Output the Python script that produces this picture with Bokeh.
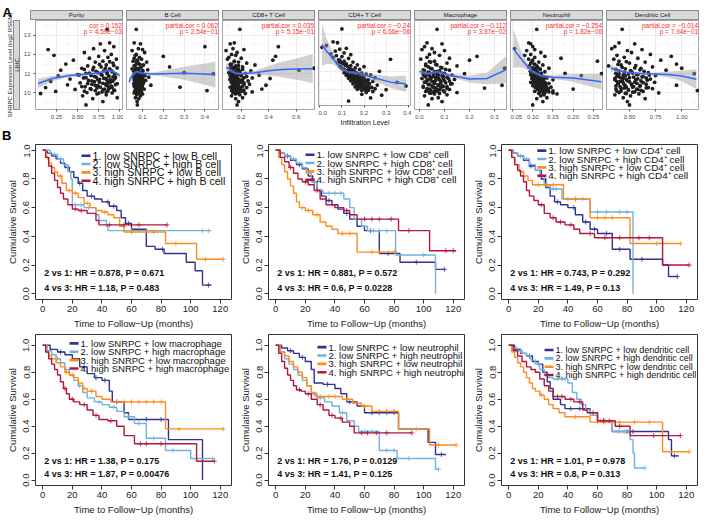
import math
import numpy as np
from bokeh.plotting import figure
from bokeh.models import (Range1d, FixedTicker, PrintfTickFormatter, Label, Div, Spacer)
from bokeh.core.properties import value
from bokeh.layouts import row, column
from bokeh.embed import file_html
from bokeh.resources import INLINE

FONT = "Liberation Sans"

# ======================= Panel A data (one row per tumour sample) =======================
expr = [13.30, 12.60, 12.55, 12.40, 12.30, 12.25, 12.20, 12.10, 12.00, 11.95,
        11.90, 11.85, 11.80, 11.75, 11.70, 11.65, 11.60, 11.55, 11.50, 11.45,
        11.40, 11.35, 11.30, 11.28, 11.25, 11.20, 11.18, 11.15, 11.10, 11.05,
        11.02, 11.00, 10.98, 10.95, 10.92, 10.90, 10.88, 10.85, 10.82, 10.80,
        10.78, 10.75, 10.72, 10.70, 10.68, 10.65, 10.62, 10.60, 10.58, 10.55,
        10.52, 10.50, 10.48, 10.45, 10.42, 10.40, 10.38, 10.35, 10.32, 10.30,
        10.28, 10.25, 10.22, 10.20, 10.18, 10.15, 10.12, 10.10, 10.08, 10.05,
        10.02, 10.00, 9.97, 9.95, 9.90, 9.85, 9.75, 9.70, 9.55, 9.38,
        11.62, 11.48, 11.42, 11.33, 11.27, 11.22, 11.16, 11.12, 11.08, 11.03,
        10.99, 10.96, 10.93, 10.89, 10.86, 10.83, 10.79, 10.76, 10.73, 10.69,
        10.66, 10.63, 10.59, 10.56, 10.53, 10.49, 10.46, 10.43, 10.39, 10.36,
        10.33, 10.29, 10.26, 10.23, 10.19, 10.16, 10.13, 10.09, 10.04, 9.99]
purity = [0.85, 0.88, 0.77, 0.93, 0.69, 0.15, 0.82, 0.58, 0.90, 0.22,
          0.75, 0.86, 0.64, 0.96, 0.45, 0.80, 0.71, 0.92, 0.36, 0.84,
          0.62, 0.78, 0.97, 0.55, 0.88, 0.68, 0.30, 0.81, 0.91, 0.74,
          0.60, 0.85, 0.94, 0.50, 0.79, 0.66, 0.27, 0.87, 0.72, 0.95,
          0.57, 0.83, 0.41, 0.76, 0.89, 0.63, 0.92, 0.18, 0.70, 0.86,
          0.53, 0.80, 0.97, 0.67, 0.38, 0.84, 0.74, 0.90, 0.59, 0.77,
          0.12, 0.88, 0.65, 0.82, 0.47, 0.93, 0.71, 0.86, 0.24, 0.79,
          0.61, 0.91, 0.06, 0.73, 0.84, 0.56, 0.97, 0.68, 0.80, 0.60,
          0.88, 0.76, 0.93, 0.69, 0.83, 0.58, 0.90, 0.72, 0.85, 0.64,
          0.95, 0.78, 0.52, 0.87, 0.70, 0.92, 0.60, 0.81, 0.94, 0.74,
          0.85, 0.67, 0.90, 0.76, 0.88, 0.62, 0.83, 0.95, 0.71, 0.86,
          0.55, 0.91, 0.73, 0.87, 0.66, 0.80, 0.94, 0.58, 0.84, 0.75]
b_cell = [0.070, 0.060, 0.090, 0.400, 0.080, 0.100, 0.050, 0.110, 0.070, 0.065,
          0.200, 0.085, 0.060, 0.095, 0.075, 0.055, 0.120, 0.080, 0.070, 0.105,
          0.060, 0.230, 0.090, 0.070, 0.050, 0.125, 0.080, 0.065, 0.100, 0.300,
          0.075, 0.440, 0.085, 0.060, 0.110, 0.070, 0.095, 0.055, 0.130, 0.080,
          0.065, 0.100, 0.070, 0.090, 0.060, 0.115, 0.075, 0.085, 0.095, 0.068,
          0.105, 0.078, 0.058, 0.092, 0.072, 0.140, 0.083, 0.062, 0.098, 0.280,
          0.076, 0.088, 0.066, 0.108, 0.074, 0.082, 0.410, 0.064, 0.094, 0.070,
          0.086, 0.060, 0.078, 0.100, 0.072, 0.090, 0.066, 0.082, 0.074, 0.075,
          0.072, 0.088, 0.062, 0.094, 0.078, 0.068, 0.102, 0.058, 0.084, 0.096,
          0.070, 0.088, 0.064, 0.112, 0.076, 0.090, 0.068, 0.098, 0.074, 0.086,
          0.062, 0.104, 0.080, 0.070, 0.092, 0.066, 0.084, 0.100, 0.072, 0.060,
          0.090, 0.078, 0.096, 0.068, 0.086, 0.074, 0.092, 0.064, 0.082, 0.076]
cd8_t = [0.19, 0.15, 0.12, 0.47, 0.14, 0.22, 0.09, 0.17, 0.13, 0.16,
         0.45, 0.11, 0.20, 0.10, 0.43, 0.15, 0.18, 0.24, 0.13, 0.30,
         0.16, 0.21, 0.12, 0.73, 0.18, 0.14, 0.62, 0.27, 0.19, 0.11,
         0.23, 0.16, 0.13, 0.20, 0.33, 0.15, 0.12, 0.24, 0.17, 0.14,
         0.28, 0.41, 0.18, 0.12, 0.21, 0.16, 0.25, 0.14, 0.19, 0.13,
         0.22, 0.17, 0.15, 0.26, 0.18, 0.38, 0.14, 0.21, 0.16, 0.12,
         0.24, 0.19, 0.14, 0.35, 0.17, 0.22, 0.13, 0.20, 0.15, 0.28,
         0.18, 0.14, 0.23, 0.16, 0.19, 0.13, 0.21, 0.16, 0.18, 0.17,
         0.15, 0.12, 0.18, 0.14, 0.16, 0.21, 0.13, 0.17, 0.15, 0.19,
         0.12, 0.18, 0.14, 0.20, 0.16, 0.13, 0.22, 0.15, 0.17, 0.12,
         0.19, 0.14, 0.16, 0.20, 0.13, 0.17, 0.15, 0.22, 0.14, 0.18,
         0.16, 0.20, 0.13, 0.17, 0.15, 0.19, 0.14, 0.21, 0.16, 0.18]
cd4_t = [0.100, 0.060, 0.080, 0.030, 0.010, 0.120, 0.090, 0.070, 0.110, 0.050,
         0.140, 0.075, 0.100, 0.060, 0.130, 0.320, 0.090, 0.110, 0.150, 0.080,
         0.120, 0.170, 0.140, 0.090, 0.200, 0.130, 0.160, 0.100, 0.180, 0.150,
         0.120, 0.270, 0.140, 0.160, 0.110, 0.190, 0.130, 0.210, 0.150, 0.230,
         0.120, 0.170, 0.140, 0.200, 0.160, 0.250, 0.130, 0.180, 0.150, 0.220,
         0.170, 0.190, 0.140, 0.240, 0.160, 0.350, 0.200, 0.180, 0.150, 0.220,
         0.170, 0.260, 0.190, 0.390, 0.210, 0.160, 0.230, 0.180, 0.200, 0.250,
         0.170, 0.300, 0.220, 0.190, 0.240, 0.210, 0.190, 0.280, 0.230, 0.130,
         0.085, 0.095, 0.105, 0.115, 0.125, 0.095, 0.135, 0.110, 0.145, 0.125,
         0.155, 0.135, 0.165, 0.120, 0.175, 0.145, 0.185, 0.130, 0.165, 0.155,
         0.195, 0.145, 0.175, 0.165, 0.205, 0.185, 0.155, 0.215, 0.175, 0.195,
         0.225, 0.165, 0.205, 0.185, 0.215, 0.175, 0.235, 0.195, 0.215, 0.205]
macrophage = [0.070, 0.030, 0.090, 0.020, 0.050, 0.010, 0.100, 0.060, 0.040, 0.080,
              0.230, 0.030, 0.120, 0.005, 0.200, 0.060, 0.045, 0.110, 0.025, 0.070,
              0.150, 0.035, 0.090, 0.340, 0.050, 0.015, 0.120, 0.080, 0.060, 0.040,
              0.100, 0.180, 0.030, 0.070, 0.130, 0.020, 0.090, 0.055, 0.110, 0.045,
              0.075, 0.010, 0.095, 0.140, 0.035, 0.065, 0.120, 0.050, 0.085, 0.025,
              0.105, 0.060, 0.130, 0.040, 0.075, 0.330, 0.090, 0.015, 0.110, 0.055,
              0.085, 0.260, 0.030, 0.070, 0.120, 0.045, 0.095, 0.060, 0.025, 0.100,
              0.150, 0.040, 0.080, 0.060, 0.110, 0.020, 0.075, 0.050, 0.090, 0.035,
              0.040, 0.065, 0.025, 0.085, 0.045, 0.105, 0.020, 0.070, 0.035, 0.090,
              0.055, 0.015, 0.075, 0.040, 0.095, 0.025, 0.065, 0.115, 0.045, 0.080,
              0.030, 0.100, 0.055, 0.020, 0.085, 0.060, 0.125, 0.035, 0.075, 0.050,
              0.095, 0.015, 0.065, 0.110, 0.040, 0.080, 0.030, 0.070, 0.055, 0.045]
neutrophil = [0.110, 0.090, 0.095, 0.100, 0.055, 0.105, 0.085, 0.120, 0.095, 0.080,
              0.130, 0.105, 0.170, 0.090, 0.100, 0.260, 0.115, 0.095, 0.105, 0.125,
              0.110, 0.090, 0.100, 0.140, 0.118, 0.100, 0.108, 0.098, 0.130, 0.112,
              0.180, 0.270, 0.105, 0.095, 0.122, 0.220, 0.100, 0.115, 0.128, 0.105,
              0.135, 0.098, 0.110, 0.120, 0.150, 0.108, 0.102, 0.118, 0.125, 0.095,
              0.112, 0.140, 0.105, 0.120, 0.132, 0.110, 0.100, 0.128, 0.115, 0.145,
              0.108, 0.122, 0.135, 0.200, 0.112, 0.125, 0.118, 0.150, 0.105, 0.140,
              0.130, 0.150, 0.115, 0.160, 0.128, 0.120, 0.135, 0.110, 0.125, 0.100,
              0.098, 0.104, 0.092, 0.112, 0.106, 0.118, 0.100, 0.094, 0.109, 0.121,
              0.103, 0.113, 0.097, 0.119, 0.107, 0.124, 0.111, 0.099, 0.116, 0.127,
              0.104, 0.114, 0.122, 0.108, 0.131, 0.102, 0.117, 0.126, 0.110, 0.121,
              0.134, 0.106, 0.129, 0.113, 0.138, 0.119, 0.124, 0.131, 0.117, 0.126]
dendritic = [0.43, 0.40, 0.55, 0.36, 0.33, 0.62, 0.48, 0.52, 0.70, 0.38,
             0.90, 0.45, 0.58, 0.35, 0.80, 0.40, 0.65, 0.50, 0.95, 0.42,
             0.30, 0.72, 0.55, 1.00, 0.46, 0.60, 0.85, 0.40, 0.52, 0.68,
             0.37, 1.12, 0.49, 0.58, 0.44, 0.75, 0.39, 0.63, 0.54, 0.41,
             0.66, 0.36, 0.70, 0.47, 0.56, 0.43, 0.61, 0.38, 0.50, 0.74,
             0.44, 0.57, 0.39, 0.66, 0.52, 0.95, 0.46, 0.60, 0.41, 0.53,
             0.68, 0.45, 0.72, 0.37, 0.58, 0.49, 1.15, 0.42, 0.63, 0.55,
             0.40, 0.78, 0.47, 0.59, 0.36, 0.51, 0.44, 0.65, 0.48, 0.50,
             0.47, 0.39, 0.56, 0.43, 0.61, 0.37, 0.51, 0.64, 0.45, 0.53,
             0.40, 0.57, 0.69, 0.46, 0.38, 0.62, 0.50, 0.44, 0.58, 0.36,
             0.67, 0.48, 0.41, 0.55, 0.63, 0.39, 0.52, 0.45, 0.60, 0.37,
             0.54, 0.47, 0.66, 0.42, 0.57, 0.49, 0.61, 0.38, 0.53, 0.46]

facet_names = ["Purity", "B Cell", "CD8+ T Cell", "CD4+ T Cell", "Macrophage", "Neutrophil", "Dendritic Cell"]
facet_cor = ["cor = 0.152", "partial.cor = 0.062", "partial.cor = 0.035", "partial.cor = \u22120.24",
             "partial.cor = \u22120.112", "partial.cor = \u22120.254", "partial.cor = \u22120.014"]
facet_p = ["p = 4.59e\u221203", "p = 2.54e\u221201", "p = 5.15e\u221201", "p = 6.66e\u221206",
           "p = 3.87e\u221202", "p = 1.82e\u221206", "p = 7.94e\u221201"]

expr_range = (9.14, 13.76)
expr_ticks = [10, 11, 12, 13]
expr_minor = [9.5, 10.5, 11.5, 12.5, 13.5]

purity_range = (0.0, 1.045); purity_ticks = [0.25, 0.5, 0.75, 1.0]; purity_minor = [0.125, 0.375, 0.625, 0.875]
bcell_range = (0.023, 0.47); bcell_ticks = [0.1, 0.2, 0.3, 0.4]; bcell_minor = [0.05, 0.15, 0.25, 0.35, 0.45]
cd8_range = (0.064, 0.74); cd8_ticks = [0.2, 0.4, 0.6]; cd8_minor = [0.1, 0.3, 0.5, 0.7]
cd4_range = (-0.006, 0.415); cd4_ticks = [0.0, 0.1, 0.2, 0.3, 0.4]; cd4_minor = [0.05, 0.15, 0.25, 0.35]
mac_range = (-0.02, 0.352); mac_ticks = [0.0, 0.1, 0.2, 0.3]; mac_minor = [0.05, 0.15, 0.25, 0.35]
neu_range = (0.045, 0.275); neu_ticks = [0.05, 0.10, 0.15, 0.20, 0.25]; neu_minor = [0.075, 0.125, 0.175, 0.225]
dc_range = (0.28, 1.17); dc_ticks = [0.5, 0.75, 1.0]; dc_minor = [0.375, 0.625, 0.875, 1.125]

# loess fits (x, fit, half width of the confidence band)
purity_fx = [0.03, 0.2, 0.4, 0.6, 0.75, 0.86, 0.93, 1.0]
purity_fy = [10.49, 10.75, 10.9, 10.97, 11.05, 11.18, 11.1, 10.9]
purity_fw = [0.25, 0.14, 0.08, 0.06, 0.05, 0.06, 0.07, 0.12]
bcell_fx = [0.035, 0.05, 0.07, 0.1, 0.15, 0.2, 0.3, 0.4, 0.45]
bcell_fy = [10.57, 10.9, 11.1, 11.02, 10.98, 11.0, 11.02, 10.98, 10.95]
bcell_fw = [0.2, 0.12, 0.07, 0.05, 0.08, 0.15, 0.34, 0.55, 0.68]
cd8_fx = [0.09, 0.12, 0.16, 0.2, 0.3, 0.4, 0.5, 0.6, 0.72]
cd8_fy = [11.34, 11.2, 11.02, 11.0, 11.05, 11.15, 11.22, 11.24, 11.26]
cd8_fw = [0.2, 0.1, 0.06, 0.06, 0.12, 0.25, 0.4, 0.55, 0.75]
cd4_fx = [0.01, 0.03, 0.06, 0.095, 0.13, 0.175, 0.24, 0.32, 0.39]
cd4_fy = [12.44, 12.1, 11.68, 11.17, 10.95, 10.9, 10.66, 10.41, 10.32]
cd4_fw = [1.15, 0.7, 0.3, 0.1, 0.07, 0.1, 0.18, 0.3, 0.45]
mac_fx = [0.0, 0.03, 0.07, 0.12, 0.2, 0.27, 0.345]
mac_fy = [11.12, 11.0, 11.1, 10.92, 10.72, 10.75, 11.2]
mac_fw = [0.12, 0.07, 0.07, 0.08, 0.18, 0.3, 0.7]
neu_fx = [0.052, 0.07, 0.085, 0.1, 0.12, 0.15, 0.2, 0.27]
neu_fy = [12.3, 11.8, 11.42, 11.1, 10.9, 10.82, 10.78, 10.58]
neu_fw = [1.0, 0.45, 0.2, 0.08, 0.07, 0.1, 0.2, 0.4]
dc_fx = [0.32, 0.4, 0.5, 0.63, 0.75, 0.89, 1.0, 1.14]
dc_fy = [11.29, 11.15, 11.05, 11.0, 10.98, 10.95, 10.88, 10.71]
dc_fw = [0.18, 0.09, 0.06, 0.06, 0.08, 0.16, 0.28, 0.5]

# ======================= Panel B data (Kaplan-Meier steps, censor times) =======================
bcell_t1 = [0, 3, 6, 9, 12, 15, 18, 21, 24, 27, 30, 35, 40, 45, 50, 53, 56, 60, 70, 76, 82, 97, 103, 108, 114]
bcell_s1 = [1, 0.98, 0.96, 0.94, 0.91, 0.88, 0.85, 0.81, 0.77, 0.72, 0.68, 0.66, 0.64, 0.61, 0.58, 0.53, 0.49, 0.45, 0.33, 0.31, 0.28, 0.22, 0.16, 0.06, 0.06]
bcell_c1 = [17, 25, 33, 44, 48, 58, 81, 112]
bcell_t2 = [0, 5, 10, 14, 17, 19, 20, 28, 36, 38, 43, 44, 114]
bcell_s2 = [1, 0.97, 0.94, 0.9, 0.85, 0.8, 0.62, 0.6, 0.55, 0.51, 0.47, 0.44, 0.44]
bcell_c2 = [8, 12, 22, 26, 31, 60, 108, 112]
bcell_t3 = [0, 2, 4, 6, 8, 10, 13, 16, 20, 24, 28, 32, 36, 40, 44, 48, 52, 55, 83, 104, 122]
bcell_s3 = [1, 0.95, 0.91, 0.88, 0.85, 0.82, 0.77, 0.72, 0.7, 0.67, 0.63, 0.6, 0.58, 0.57, 0.55, 0.53, 0.47, 0.43, 0.35, 0.24, 0.24]
bcell_c3 = [3, 12, 18, 22, 30, 42, 60, 75, 90, 110, 122]
bcell_t4 = [0, 2, 4, 6, 8, 10, 12, 14, 17, 20, 24, 30, 36, 38, 84]
bcell_s4 = [1, 0.95, 0.89, 0.84, 0.79, 0.74, 0.7, 0.66, 0.62, 0.59, 0.58, 0.56, 0.51, 0.48, 0.48]
bcell_c4 = [22, 26, 45, 55, 65, 84]

cd8_t1 = [0, 3, 6, 10, 14, 18, 22, 25, 28, 31, 34, 38, 42, 46, 50, 55, 60, 70, 84, 108, 114]
cd8_s1 = [1, 0.98, 0.96, 0.93, 0.9, 0.87, 0.82, 0.78, 0.72, 0.68, 0.65, 0.62, 0.59, 0.56, 0.52, 0.47, 0.44, 0.28, 0.22, 0.17, 0.17]
cd8_c1 = [8, 16, 26, 36, 48, 64, 76, 95, 114]
cd8_t2 = [0, 3, 6, 10, 14, 18, 21, 24, 28, 32, 46, 50, 53, 58, 62, 81, 108]
cd8_s2 = [1, 0.98, 0.96, 0.94, 0.91, 0.88, 0.84, 0.78, 0.72, 0.7, 0.66, 0.6, 0.52, 0.47, 0.44, 0.27, 0.0]
cd8_c2 = [12, 26, 30, 36, 40, 44, 66, 70, 75, 100]
cd8_t3 = [0, 2, 4, 6, 8, 10, 12, 14, 16, 20, 25, 30, 34, 38, 42, 55, 82]
cd8_s3 = [1, 0.95, 0.9, 0.85, 0.8, 0.75, 0.7, 0.64, 0.6, 0.58, 0.55, 0.5, 0.47, 0.45, 0.42, 0.29, 0.29]
cd8_c3 = [18, 22, 28, 45, 50, 65, 70, 80]
cd8_t4 = [0, 3, 6, 9, 12, 15, 18, 22, 26, 30, 34, 40, 46, 50, 55, 83, 104, 122]
cd8_s4 = [1, 0.95, 0.92, 0.88, 0.84, 0.8, 0.78, 0.76, 0.72, 0.66, 0.62, 0.6, 0.58, 0.55, 0.52, 0.44, 0.3, 0.3]
cd8_c4 = [10, 20, 28, 48, 60, 65, 70, 78, 90, 115, 120]

cd4_t1 = [0, 3, 6, 10, 14, 18, 22, 25, 28, 31, 35, 40, 45, 50, 55, 60, 70, 82, 104, 108, 114]
cd4_s1 = [1, 0.98, 0.96, 0.93, 0.89, 0.86, 0.8, 0.74, 0.68, 0.64, 0.62, 0.6, 0.55, 0.5, 0.45, 0.42, 0.31, 0.24, 0.2, 0.12, 0.12]
cd4_c1 = [15, 24, 33, 44, 52, 58, 66, 75, 90, 114]
cd4_t2 = [0, 3, 6, 10, 14, 18, 21, 24, 28, 36, 55, 84]
cd4_s2 = [1, 0.98, 0.96, 0.94, 0.9, 0.86, 0.82, 0.76, 0.73, 0.66, 0.57, 0.0]
cd4_c2 = [8, 12, 26, 30, 32, 40, 45, 50, 60, 66, 75, 80]
cd4_t3 = [0, 2, 4, 7, 10, 13, 16, 37, 55, 82, 116]
cd4_s3 = [1, 0.95, 0.9, 0.85, 0.82, 0.79, 0.76, 0.66, 0.53, 0.35, 0.35]
cd4_c3 = [20, 25, 30, 45, 60, 65, 70, 100, 116]
cd4_t4 = [0, 2, 4, 6, 8, 10, 12, 14, 17, 20, 24, 28, 32, 38, 44, 48, 58, 104, 122]
cd4_s4 = [1, 0.95, 0.9, 0.86, 0.82, 0.78, 0.72, 0.68, 0.65, 0.62, 0.56, 0.53, 0.5, 0.48, 0.45, 0.42, 0.39, 0.2, 0.2]
cd4_c4 = [22, 30, 35, 42, 55, 65, 75, 88, 95, 122]

mac_t1 = [0, 5, 10, 15, 20, 25, 30, 35, 40, 45, 47, 55, 58, 85, 108]
mac_s1 = [1, 0.97, 0.95, 0.93, 0.9, 0.84, 0.79, 0.76, 0.74, 0.66, 0.58, 0.5, 0.45, 0.3, 0.0]
mac_c1 = [12, 28, 36, 42, 50, 62, 70, 80]
mac_t2 = [0, 3, 6, 9, 12, 15, 18, 21, 24, 27, 30, 35, 40, 45, 50, 55, 62, 70, 83, 100, 115]
mac_s2 = [1, 0.96, 0.93, 0.9, 0.87, 0.82, 0.78, 0.74, 0.7, 0.65, 0.61, 0.58, 0.56, 0.54, 0.51, 0.47, 0.42, 0.31, 0.22, 0.16, 0.16]
mac_c2 = [10, 25, 38, 48, 58, 65, 75, 88, 104, 115]
mac_t3 = [0, 2, 4, 6, 9, 12, 15, 18, 21, 24, 27, 30, 36, 40, 46, 83, 122]
mac_s3 = [1, 0.95, 0.92, 0.9, 0.87, 0.84, 0.8, 0.78, 0.76, 0.72, 0.68, 0.66, 0.62, 0.6, 0.58, 0.38, 0.38]
mac_c3 = [16, 20, 28, 33, 50, 55, 60, 65, 70, 75, 80, 92, 122]
mac_t4 = [0, 2, 4, 6, 8, 10, 12, 14, 16, 18, 21, 25, 30, 34, 38, 44, 50, 55, 62, 104, 116]
mac_s4 = [1, 0.95, 0.9, 0.86, 0.82, 0.78, 0.73, 0.68, 0.64, 0.6, 0.58, 0.56, 0.52, 0.48, 0.45, 0.44, 0.4, 0.33, 0.27, 0.14, 0.14]
mac_c4 = [15, 20, 28, 36, 46, 66, 70, 80, 116]

neu_t1 = [0, 4, 8, 12, 16, 20, 24, 26, 32, 40, 44, 48, 55, 60, 83, 103, 108, 115]
neu_s1 = [1, 0.98, 0.96, 0.94, 0.91, 0.88, 0.82, 0.72, 0.71, 0.68, 0.64, 0.58, 0.55, 0.5, 0.38, 0.28, 0.19, 0.19]
neu_c1 = [10, 18, 35, 50, 65, 70, 75, 80, 112]
neu_t2 = [0, 3, 6, 9, 12, 15, 18, 21, 24, 28, 33, 38, 43, 48, 53, 56, 70, 82, 108, 110]
neu_s2 = [1, 0.95, 0.9, 0.86, 0.82, 0.78, 0.74, 0.7, 0.64, 0.61, 0.58, 0.55, 0.5, 0.44, 0.4, 0.36, 0.22, 0.16, 0.08, 0.08]
neu_c2 = [26, 30, 45, 60, 65, 75, 80, 90, 110]
neu_t3 = [0, 3, 6, 9, 12, 15, 18, 21, 24, 27, 45, 52, 58, 65, 83, 104, 122]
neu_s3 = [1, 0.95, 0.92, 0.88, 0.84, 0.8, 0.76, 0.7, 0.65, 0.62, 0.6, 0.57, 0.55, 0.51, 0.38, 0.26, 0.26]
neu_c3 = [30, 36, 40, 48, 60, 70, 75, 80, 95, 110, 122]
neu_t4 = [0, 2, 4, 6, 8, 10, 12, 14, 17, 20, 24, 28, 32, 36, 40, 45, 50, 53, 92]
neu_s4 = [1, 0.94, 0.88, 0.83, 0.78, 0.74, 0.7, 0.67, 0.66, 0.64, 0.6, 0.56, 0.52, 0.48, 0.46, 0.43, 0.4, 0.35, 0.35]
neu_c4 = [16, 22, 30, 38, 44, 58, 62, 68, 75, 92]

dc_t1 = [0, 4, 8, 12, 16, 20, 23, 26, 28, 30, 35, 38, 55, 60, 70, 108, 110, 115]
dc_s1 = [1, 0.97, 0.94, 0.92, 0.88, 0.86, 0.8, 0.73, 0.68, 0.6, 0.56, 0.53, 0.5, 0.44, 0.36, 0.3, 0.18, 0.18]
dc_c1 = [14, 42, 48, 64, 80, 84, 112]
dc_t2 = [0, 3, 6, 9, 12, 15, 18, 21, 24, 27, 30, 40, 43, 46, 49, 52, 55, 60, 70, 82, 84, 85, 92]
dc_s2 = [1, 0.98, 0.96, 0.94, 0.92, 0.89, 0.86, 0.82, 0.78, 0.76, 0.75, 0.72, 0.65, 0.6, 0.56, 0.52, 0.48, 0.44, 0.36, 0.3, 0.2, 0.09, 0.09]
dc_c2 = [8, 20, 33, 36, 38, 50, 62, 65, 74, 78, 92]
dc_t3 = [0, 2, 4, 6, 8, 10, 12, 14, 16, 18, 21, 24, 27, 30, 34, 38, 55, 104, 122]
dc_s3 = [1, 0.95, 0.91, 0.87, 0.84, 0.8, 0.76, 0.72, 0.68, 0.66, 0.63, 0.6, 0.56, 0.53, 0.5, 0.47, 0.43, 0.21, 0.21]
dc_c3 = [22, 45, 60, 65, 75, 85, 95, 122]
dc_t4 = [0, 3, 6, 9, 12, 15, 18, 21, 24, 27, 30, 38, 44, 50, 53, 60, 72, 82, 116]
dc_s4 = [1, 0.96, 0.92, 0.88, 0.84, 0.82, 0.8, 0.75, 0.7, 0.66, 0.62, 0.6, 0.58, 0.52, 0.5, 0.44, 0.4, 0.33, 0.33]
dc_c4 = [33, 36, 42, 48, 57, 64, 68, 75, 98, 116]

km_cells = ["B cell", "CD8\u207a cell", "CD4\u207a cell", "macrophage", "neutrophil", "dendritic cell"]
km_hr1 = ["2 vs 1: HR = 0.878, P = 0.671", "2 vs 1: HR = 0.881, P = 0.572", "2 vs 1: HR = 0.743, P = 0.292",
          "2 vs 1: HR = 1.38, P = 0.175", "2 vs 1: HR = 1.76, P = 0.0129", "2 vs 1: HR = 1.01, P = 0.978"]
km_hr2 = ["4 vs 3: HR = 1.18, P = 0.483", "4 vs 3: HR = 0.6, P = 0.0228", "4 vs 3: HR = 1.49, P = 0.13",
          "4 vs 3: HR = 1.87, P = 0.00476", "4 vs 3: HR = 1.41, P = 0.125", "4 vs 3: HR = 0.8, P = 0.313"]
km_x_ticks = [0, 20, 40, 60, 80, 100, 120]
km_y_ticks = [0.0, 0.2, 0.4, 0.6, 0.8, 1.0]
km_colors = ["#2f3391", "#72b1de", "#ff8c1a", "#b3173d"]

# ======================= layout constants =======================
KM_W, KM_LEFT, KM_RIGHT = 233, 35, 2
KM_XR = (-4.9, 127.6)
ROW1_YR, ROW2_YR = (-0.04, 1.04), (-0.04, 1.08)
ROW1_TOP, ROW1_FRAME, ROW1_BOTTOM = 0, 156, 31
ROW2_TOP, ROW2_FRAME, ROW2_BOTTOM = 3, 152, 31
# legend placement per KM panel: (start of key line in months, survival level of first row), font size
leg_anchor = [(26.2, 0.962), (20.1, 0.969), (19.3, 0.997), (18.1, 1.014), (28.2, 0.986), (24.2, 0.965)]
leg_fonts = ["10.6px", "9.9px", "9.9px", "9.5px", "9.5px", "9px"]
LEG_PITCH = 8.4   # px between legend rows
KEY_LEN = 9       # px, key line length
KEY_GAP = 2       # px between key line and text


# ======================= helpers =======================
def strip_div(text, w):
    return Div(text=text, width=w, height=10, margin=0,
               styles={"background-color": "#d9d9d9", "border": "1px solid #8c8c8c",
                       "box-sizing": "border-box", "font-size": "6px", "line-height": "8px",
                       "text-align": "center", "color": "#1a1a1a", "font-family": FONT,
                       "overflow": "hidden", "white-space": "nowrap"})


def make_facet(xs, xr, ticks, minor, fmt, fx, fy, fw, cor, pval, first=False, xlabel=None):
    fw_ = 93 + (10 if first else 0)
    p = figure(width=fw_, height=108, x_range=Range1d(*xr), y_range=Range1d(*expr_range),
               output_backend="svg", toolbar_location=None,
               min_border_left=10 if first else 0, min_border_right=0,
               min_border_top=0, min_border_bottom=19)
    p.outline_line_color = "#8c8c8c"
    p.outline_line_width = 0.8
    p.background_fill_color = "white"
    p.xaxis.ticker = FixedTicker(ticks=ticks, minor_ticks=minor)
    p.yaxis.ticker = FixedTicker(ticks=expr_ticks, minor_ticks=expr_minor)
    p.xaxis.formatter = PrintfTickFormatter(format=fmt)
    for ax in (p.xaxis, p.yaxis):
        ax.axis_line_color = None
        ax.major_tick_line_color = "#4d4d4d"
        ax.major_tick_out = 2
        ax.major_tick_in = 0
        ax.minor_tick_line_color = None
        ax.major_label_text_font_size = "6px"
        ax.major_label_text_color = "#4d4d4d"
        ax.major_label_text_font = FONT
        ax.major_label_standoff = 1
    if not first:
        p.yaxis.visible = False
    if xlabel:
        p.xaxis.axis_label = xlabel
        p.xaxis.axis_label_text_font_size = "7px"
        p.xaxis.axis_label_text_font_style = "normal"
        p.xaxis.axis_label_text_font = FONT
        p.xaxis.axis_label_text_color = "#1a1a1a"
        p.xaxis.axis_label_standoff = 1
    for g in (p.xgrid, p.ygrid):
        g.grid_line_color = "#e3e3e3"
        g.grid_line_width = 0.7
        g.minor_grid_line_color = "#f1f1f1"
        g.minor_grid_line_width = 0.5
    p.scatter(xs, expr, size=3.8, fill_color="#1f1f1f", line_color=None)
    lo = [a - b for a, b in zip(fy, fw)]
    hi = [a + b for a, b in zip(fy, fw)]
    p.varea(x=fx, y1=lo, y2=hi, fill_color="#9a9a9a", fill_alpha=0.45)
    p.line(fx, fy, line_color="#3366ff", line_width=1.5)
    p.add_layout(Label(x=xr[1], y=expr_range[1], x_offset=-1.5, y_offset=-1.5, text=cor,
                       text_align="right", text_baseline="top", text_font_size="6.5px",
                       text_color="#ff2a2a", text_font=FONT))
    p.add_layout(Label(x=xr[1], y=expr_range[1], x_offset=-1.5, y_offset=-7.5, text=pval,
                       text_align="right", text_baseline="top", text_font_size="6.5px",
                       text_color="#ff2a2a", text_font=FONT))
    return p


def surv_at(t, s, tc):
    idx = np.searchsorted(np.asarray(t, dtype=float), np.asarray(tc, dtype=float), side="right") - 1
    idx = np.clip(idx, 0, len(s) - 1)
    return list(np.asarray(s, dtype=float)[idx])


def make_km(groups, cell, hr1, hr2, yr, top, frame_h, bottom, anchor, leg_font):
    h = top + frame_h + bottom
    p = figure(width=KM_W, height=h, x_range=Range1d(*KM_XR), y_range=Range1d(*yr),
               output_backend="svg", toolbar_location=None,
               min_border_left=KM_LEFT, min_border_right=KM_RIGHT,
               min_border_top=top, min_border_bottom=bottom)
    frame_w = KM_W - KM_LEFT - KM_RIGHT
    p.outline_line_color = "#333333"
    p.outline_line_width = 1
    p.xgrid.visible = False
    p.ygrid.visible = False
    p.xaxis.ticker = FixedTicker(ticks=km_x_ticks)
    p.yaxis.ticker = FixedTicker(ticks=km_y_ticks)
    p.yaxis.formatter = PrintfTickFormatter(format="%.1f")
    p.yaxis.major_label_orientation = "parallel"
    for ax in (p.xaxis, p.yaxis):
        ax.axis_line_color = None
        ax.major_tick_line_color = "#333333"
        ax.major_tick_out = 4
        ax.major_tick_in = 0
        ax.minor_tick_line_color = None
        ax.major_label_text_font_size = "9.5px"
        ax.major_label_text_font = FONT
        ax.major_label_text_color = "#222222"
        ax.major_label_standoff = 2
        ax.axis_label_text_font_size = "9.5px"
        ax.axis_label_text_font_style = "normal"
        ax.axis_label_text_font = FONT
        ax.axis_label_text_color = "#222222"
        ax.axis_label_standoff = 3
    p.xaxis.axis_label = "Time to Follow\u2212Up (months)"
    p.yaxis.axis_label = "Cumulative Survival"
    labels = ["1. low SNRPC + low " + cell, "2. low SNRPC + high " + cell,
              "3. high SNRPC + low " + cell, "4. high SNRPC + high " + cell]
    for (t, s, c), col in zip(groups, km_colors):
        p.step(t, s, mode="after", line_color=col, line_width=1.4)
        p.scatter(c, surv_at(t, s, c), marker="cross", size=5, line_color=col, line_width=1, line_alpha=0.8)
    # legend drawn like R's legend(): short key lines + tightly stacked labels
    mx = (KM_XR[1] - KM_XR[0]) / frame_w      # months per px
    my = (yr[1] - yr[0]) / frame_h            # survival per px
    n = len(labels)
    key_x0 = anchor[0]
    key_x1 = anchor[0] + KEY_LEN * mx
    text_x = key_x1 + KEY_GAP * mx
    rows_y = [anchor[1] - k * LEG_PITCH * my for k in range(n)]
    p.segment(x0=[key_x0] * n, y0=rows_y, x1=[key_x1] * n, y1=rows_y,
              line_color=km_colors, line_width=2.6)
    p.text(x=[text_x] * n, y=rows_y, text=labels, text_baseline="middle", text_align="left",
           text_font_size=leg_font, text_font=value(FONT), text_color="#111111")
    p.add_layout(Label(x=1, y=0.145, text=hr1, text_font_size="9px", text_font_style="bold",
                       text_baseline="middle", text_font=FONT, text_color="#111111"))
    p.add_layout(Label(x=1, y=0.042, text=hr2, text_font_size="9px", text_font_style="bold",
                       text_baseline="middle", text_font=FONT, text_color="#111111"))
    return p


# ======================= Panel A =======================
facet_specs = [
    (purity, purity_range, purity_ticks, purity_minor, "%.2f", purity_fx, purity_fy, purity_fw),
    (b_cell, bcell_range, bcell_ticks, bcell_minor, "%.1f", bcell_fx, bcell_fy, bcell_fw),
    (cd8_t, cd8_range, cd8_ticks, cd8_minor, "%.1f", cd8_fx, cd8_fy, cd8_fw),
    (cd4_t, cd4_range, cd4_ticks, cd4_minor, "%.1f", cd4_fx, cd4_fy, cd4_fw),
    (macrophage, mac_range, mac_ticks, mac_minor, "%.1f", mac_fx, mac_fy, mac_fw),
    (neutrophil, neu_range, neu_ticks, neu_minor, "%.2f", neu_fx, neu_fy, neu_fw),
    (dendritic, dc_range, dc_ticks, dc_minor, "%.2f", dc_fx, dc_fy, dc_fw),
]

# left block: panel letter (title), y title and the LIHC strip
left = figure(width=20, height=128, x_range=Range1d(0, 1), y_range=Range1d(*expr_range),
              output_backend="svg", toolbar_location=None, title="A",
              min_border_left=13, min_border_right=0, min_border_top=20, min_border_bottom=19)
left.title.align = "left"
left.title.offset = -11
left.title.standoff = 2
left.title.text_font_size = "13px"
left.title.text_font_style = "bold"
left.title.text_font = FONT
left.title.text_color = "#000000"
left.background_fill_color = "#d9d9d9"
left.outline_line_color = "#8c8c8c"
left.xaxis.visible = False
left.xgrid.visible = False
left.ygrid.visible = False
left.yaxis.ticker = FixedTicker(ticks=[])
left.yaxis.major_label_text_font_size = "0px"
left.yaxis.axis_line_color = None
left.yaxis.major_tick_line_color = None
left.yaxis.major_tick_out = 0
left.yaxis.major_label_standoff = 0
left.yaxis.axis_label = "SNRPC Expression Level (log2 RSEM)"
left.yaxis.axis_label_text_font_size = "6px"
left.yaxis.axis_label_text_font_style = "normal"
left.yaxis.axis_label_text_font = FONT
left.yaxis.axis_label_text_color = "#1a1a1a"
left.yaxis.axis_label_standoff = 1
left.add_layout(Label(x=0.5, y=(expr_range[0] + expr_range[1]) / 2, text="LIHC", angle=math.pi / 2,
                      text_align="center", text_baseline="middle", text_font_size="6px",
                      text_font=FONT, text_color="#1a1a1a"))

top_children = [left]
for i, (spec, name, cor, pv) in enumerate(zip(facet_specs, facet_names, facet_cor, facet_p)):
    xs, xr, tk, mn, fmt, fx, fy, fw = spec
    first = i == 0
    fig = make_facet(xs, xr, tk, mn, fmt, fx, fy, fw, cor, pv, first=first,
                     xlabel="Infiltration Level" if i == 3 else None)
    if first:
        st = row(Spacer(width=10, height=10, margin=0), strip_div(name, 93))
    else:
        top_children.append(Spacer(width=3, height=10, margin=0))
        st = strip_div(name, 93)
    top_children.append(column(Spacer(width=10, height=10, margin=0), st, fig))
top_row = row(*top_children)

# ======================= Panel B =======================
km_groups = [
    [(bcell_t1, bcell_s1, bcell_c1), (bcell_t2, bcell_s2, bcell_c2), (bcell_t3, bcell_s3, bcell_c3), (bcell_t4, bcell_s4, bcell_c4)],
    [(cd8_t1, cd8_s1, cd8_c1), (cd8_t2, cd8_s2, cd8_c2), (cd8_t3, cd8_s3, cd8_c3), (cd8_t4, cd8_s4, cd8_c4)],
    [(cd4_t1, cd4_s1, cd4_c1), (cd4_t2, cd4_s2, cd4_c2), (cd4_t3, cd4_s3, cd4_c3), (cd4_t4, cd4_s4, cd4_c4)],
    [(mac_t1, mac_s1, mac_c1), (mac_t2, mac_s2, mac_c2), (mac_t3, mac_s3, mac_c3), (mac_t4, mac_s4, mac_c4)],
    [(neu_t1, neu_s1, neu_c1), (neu_t2, neu_s2, neu_c2), (neu_t3, neu_s3, neu_c3), (neu_t4, neu_s4, neu_c4)],
    [(dc_t1, dc_s1, dc_c1), (dc_t2, dc_s2, dc_c2), (dc_t3, dc_s3, dc_c3), (dc_t4, dc_s4, dc_c4)],
]

row1, row2 = [], []
for i in range(6):
    if i < 3:
        row1.append(make_km(km_groups[i], km_cells[i], km_hr1[i], km_hr2[i], ROW1_YR,
                            ROW1_TOP, ROW1_FRAME, ROW1_BOTTOM, leg_anchor[i], leg_fonts[i]))
    else:
        row2.append(make_km(km_groups[i], km_cells[i], km_hr1[i], km_hr2[i], ROW2_YR,
                            ROW2_TOP, ROW2_FRAME, ROW2_BOTTOM, leg_anchor[i], leg_fonts[i]))

div_b = Div(text="B", width=700, height=16, margin=0,
            styles={"font-size": "13px", "font-weight": "bold", "line-height": "16px",
                    "font-family": FONT, "color": "#000", "padding-left": "2px"})

layout = column(top_row, div_b, row(*row1), row(*row2))

open("out.html", "w").write(file_html(layout, INLINE, title="SNRPC immune infiltration"))
